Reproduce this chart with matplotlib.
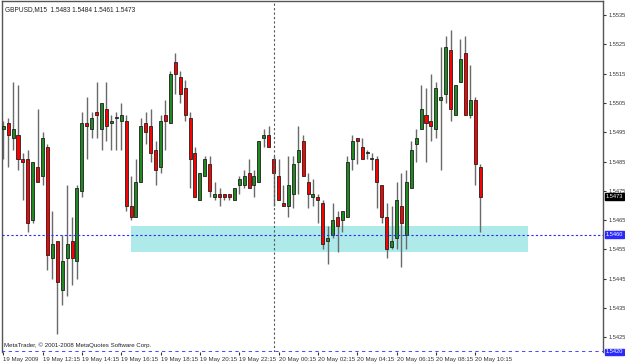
import matplotlib
matplotlib.use("Agg")
import matplotlib.pyplot as plt
import matplotlib.transforms as mtransforms
import numpy as np

# GBPUSD M15, 19 May 2009 10:15 .. 20 May 2009 10:30
opens = [1.5496, 1.5498, 1.5493, 1.5494, 1.5486, 1.5486, 1.5465, 1.5483, 1.5480, 1.5490,
         1.5452, 1.5458, 1.5441, 1.5452, 1.5458, 1.5451, 1.5475, 1.5498, 1.5496, 1.5502,
         1.5496, 1.5503, 1.5498, 1.5500, 1.5499, 1.5499, 1.5470, 1.5466, 1.5478, 1.5498,
         1.5497, 1.5489, 1.5483, 1.5501, 1.5498, 1.5519, 1.5514, 1.5510, 1.5500, 1.5488,
         1.5472, 1.5480, 1.5484, 1.5473, 1.5474, 1.5474, 1.5474, 1.5472, 1.5477, 1.5477,
         1.5481, 1.5477, 1.5478, 1.5493, 1.5494, 1.5486, 1.5480, 1.5471, 1.5470, 1.5474,
         1.5485, 1.5492, 1.5478, 1.5473, 1.5473, 1.5471, 1.5458, 1.5460, 1.5466, 1.5465,
         1.5466, 1.5486, 1.5493, 1.5490, 1.5488, 1.5486, 1.5486, 1.5477, 1.5466, 1.5456,
         1.5459, 1.5470, 1.5460, 1.5476, 1.5491, 1.5496, 1.5501, 1.5499, 1.5496, 1.5506,
         1.5508, 1.5523, 1.5501, 1.5512, 1.5522, 1.5501, 1.5506, 1.5483]
highs = [1.5499, 1.5500, 1.5512, 1.5511, 1.5488, 1.5489, 1.5485, 1.5503, 1.5495, 1.5491,
         1.5468, 1.5458, 1.5460, 1.5477, 1.5466, 1.5477, 1.5502, 1.5507, 1.5502, 1.5512,
         1.5505, 1.5512, 1.5501, 1.5502, 1.5505, 1.5501, 1.5480, 1.5486, 1.5500, 1.5502,
         1.5503, 1.5492, 1.5501, 1.5506, 1.5516, 1.5522, 1.5516, 1.5513, 1.5502, 1.5490,
         1.5481, 1.5487, 1.5487, 1.5478, 1.5476, 1.5474, 1.5474, 1.5476, 1.5480, 1.5482,
         1.5486, 1.5482, 1.5492, 1.5496, 1.5497, 1.5487, 1.5486, 1.5477, 1.5487, 1.5487,
         1.5497, 1.5494, 1.5481, 1.5479, 1.5474, 1.5472, 1.5463, 1.5471, 1.5468, 1.5468,
         1.5487, 1.5494, 1.5493, 1.5493, 1.5489, 1.5488, 1.5487, 1.5477, 1.5471, 1.5470,
         1.5478, 1.5481, 1.5482, 1.5492, 1.5496, 1.5511, 1.5510, 1.5515, 1.5512, 1.5524,
         1.5528, 1.5530, 1.5511, 1.5527, 1.5528, 1.5518, 1.5507, 1.5484]
lows = [1.5486, 1.5483, 1.5489, 1.5482, 1.5472, 1.5461, 1.5464, 1.5478, 1.5477, 1.5448,
        1.5445, 1.5426, 1.5436, 1.5439, 1.5443, 1.5445, 1.5473, 1.5486, 1.5493, 1.5493,
        1.5489, 1.5492, 1.5489, 1.5489, 1.5489, 1.5468, 1.5465, 1.5466, 1.5478, 1.5491,
        1.5485, 1.5477, 1.5481, 1.5489, 1.5498, 1.5508, 1.5505, 1.5499, 1.5476, 1.5473,
        1.5472, 1.5480, 1.5473, 1.5472, 1.5470, 1.5472, 1.5472, 1.5472, 1.5474, 1.5476,
        1.5476, 1.5473, 1.5478, 1.5490, 1.5490, 1.5470, 1.5472, 1.5470, 1.5466, 1.5469,
        1.5474, 1.5480, 1.5469, 1.5470, 1.5464, 1.5455, 1.5450, 1.5459, 1.5454, 1.5461,
        1.5466, 1.5482, 1.5484, 1.5486, 1.5486, 1.5482, 1.5469, 1.5464, 1.5452, 1.5455,
        1.5455, 1.5449, 1.5455, 1.5476, 1.5485, 1.5496, 1.5485, 1.5492, 1.5493, 1.5482,
        1.5505, 1.5499, 1.5501, 1.5512, 1.5501, 1.5500, 1.5477, 1.5461]
closes = [1.5497, 1.5494, 1.5496, 1.5486, 1.5485, 1.5464, 1.5485, 1.5478, 1.5493, 1.5453,
          1.5457, 1.5444, 1.5451, 1.5457, 1.5452, 1.5476, 1.5498, 1.5497, 1.5500, 1.5501,
          1.5505, 1.5497, 1.5499, 1.5500, 1.5501, 1.5470, 1.5466, 1.5478, 1.5497, 1.5495,
          1.5488, 1.5482, 1.5499, 1.5499, 1.5515, 1.5515, 1.5508, 1.5501, 1.5486, 1.5473,
          1.5481, 1.5486, 1.5475, 1.5474, 1.5473, 1.5473, 1.5473, 1.5476, 1.5479, 1.5480,
          1.5476, 1.5480, 1.5492, 1.5494, 1.5490, 1.5481, 1.5472, 1.5470, 1.5477, 1.5484,
          1.5489, 1.5480, 1.5474, 1.5474, 1.5472, 1.5457, 1.5459, 1.5465, 1.5463, 1.5468,
          1.5485, 1.5492, 1.5492, 1.5486, 1.5488, 1.5486, 1.5478, 1.5466, 1.5455, 1.5458,
          1.5472, 1.5464, 1.5478, 1.5489, 1.5493, 1.5503, 1.5498, 1.5497, 1.5510, 1.5507,
          1.5524, 1.5503, 1.5511, 1.5520, 1.5501, 1.5506, 1.5484, 1.5473]

time_labels = ["19 May 2009", "19 May 12:15", "19 May 14:15", "19 May 16:15",
               "19 May 18:15", "19 May 20:15", "19 May 22:15", "20 May 00:15",
               "20 May 02:15", "20 May 04:15", "20 May 06:15", "20 May 08:15",
               "20 May 10:15"]
price_ticks = [1.5425, 1.5435, 1.5445, 1.5455, 1.5465, 1.5475, 1.5485,
               1.5495, 1.5505, 1.5515, 1.5525, 1.5535]

zone_top, zone_bottom = 1.5463, 1.5454
zone_start, zone_end = 25.9, 106.8
hline_level = 1.5460
bottom_level = 1.5420
vline_bar = 55

plt.rcParams["font.family"] = ["Liberation Sans", "DejaVu Sans"]
FS = 4.4
FS_Y = 4.1

fig = plt.figure(figsize=(6.25, 3.63), dpi=100)
fig.patch.set_facecolor("white")
ax = fig.add_axes([2 / 625, 1 - 352 / 363, 601 / 625, 351 / 363])
ax.set_facecolor("white")

o = np.array(opens)
h = np.array(highs)
l = np.array(lows)
c = np.array(closes)
x = np.arange(len(o))
up = c >= o

# support zone
ax.add_patch(plt.Rectangle((zone_start, zone_bottom), zone_end - zone_start,
                           zone_top - zone_bottom, facecolor="#AEEAEA",
                           edgecolor="none", zorder=1))

ax.vlines(x, l, h, color="#6a6a6a", linewidth=1.0, zorder=2)
body_bottom = np.minimum(o, c)
body_height = np.maximum(np.abs(c - o), 0.00002)
ax.bar(x[up], body_height[up], bottom=body_bottom[up], width=0.62,
       color="#1f8a1f", edgecolor="#202020", linewidth=0.6, zorder=3)
ax.bar(x[~up], body_height[~up], bottom=body_bottom[~up], width=0.62,
       color="#ff0000", edgecolor="#202020", linewidth=0.6, zorder=3)

ax.axhline(hline_level, color="#2a2aff", linewidth=0.8, linestyle=(0, (2, 2)), zorder=4)
ax.axhline(bottom_level, color="#2a2aff", linewidth=1.2, linestyle=(0, (2, 2)), zorder=4)
ax.axvline(vline_bar, color="#555555", linewidth=0.8, linestyle=(0, (2, 2)), zorder=4)

ax.set_xlim(-0.25, 122.0)
ax.set_ylim(1.5420, 1.55398)

for s in ["top", "left", "right"]:
    ax.spines[s].set_color("#555555")
    ax.spines[s].set_linewidth(1.0)
ax.spines["bottom"].set_visible(False)

ax.yaxis.tick_right()
ax.set_yticks(price_ticks)
ax.set_yticklabels([f"{p:.4f}" for p in price_ticks])
ax.tick_params(axis="y", direction="out", length=2.5, width=0.8, colors="#333333",
               labelsize=FS_Y, pad=1.2)
ax.set_xticks(np.arange(0, 8 * len(time_labels), 8))
ax.set_xticklabels(time_labels)
ax.tick_params(axis="x", direction="out", length=2, width=0.8, colors="#333333",
               labelsize=FS, pad=1.5)
for lab in ax.get_xticklabels():
    lab.set_horizontalalignment("left")

# price tags on the right scale
trans = mtransforms.blended_transform_factory(ax.transAxes, ax.transData)
tag_box = dict(boxstyle="square,pad=0.15")
ax.text(1.004, closes[-1], f"{closes[-1]:.4f}", transform=trans, fontsize=FS_Y,
        color="white", va="center", ha="left",
        bbox=dict(tag_box, facecolor="black", edgecolor="black"))
ax.text(1.004, hline_level, f"{hline_level:.4f}", transform=trans, fontsize=FS_Y,
        color="white", va="center", ha="left",
        bbox=dict(tag_box, facecolor="#2a2aff", edgecolor="#2a2aff"))
ax.text(1.004, bottom_level, f"{bottom_level:.4f}", transform=trans, fontsize=FS_Y,
        color="white", va="center", ha="left", clip_on=False,
        bbox=dict(tag_box, facecolor="#2a2aff", edgecolor="#2a2aff"))

ax.text(0.005, 0.985,
        f"GBPUSD,M15  {opens[-1]:.4f} {highs[-1]:.4f} {lows[-1]:.4f} {closes[-1]:.4f}",
        transform=ax.transAxes, fontsize=FS + 0.3, va="top", ha="left", color="#222222")
ax.text(0.003, 0.012, "MetaTrader, © 2001-2008 MetaQuotes Software Corp.",
        transform=ax.transAxes, fontsize=FS, va="bottom", ha="left", color="#222222")

fig.savefig("out.png", dpi=100)
